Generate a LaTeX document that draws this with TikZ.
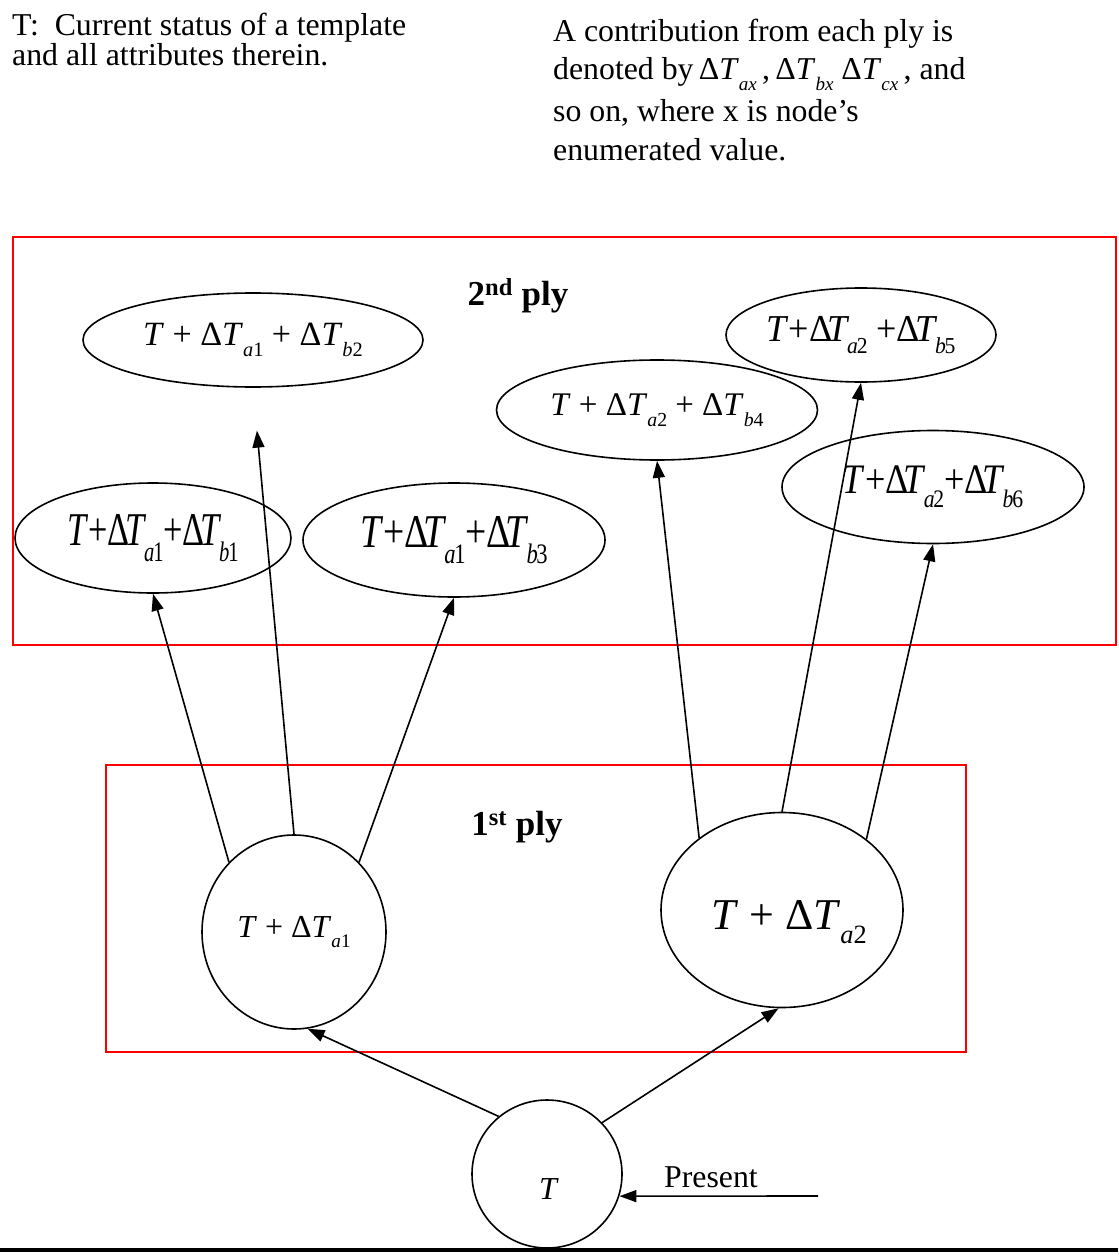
\documentclass[tikz,border=0pt]{standalone}
\usepackage{fontspec}
\setmainfont{Liberation Serif}
\usepackage{tikz}
\usetikzlibrary{arrows.meta,shapes.geometric}

\definecolor{plyInk}{HTML}{000000}
\definecolor{plyFrame}{HTML}{FF0000}

% increment Delta T with an italic/upright subscript, e.g. \PlyDT{a}{1}
\newcommand{\PlyDT}[2]{Δ\textit{T}\raisebox{-.33em}{\scalebox{.6}{\textit{#1}#2}}}
% squeezed form, glyphs run into one another
\newcommand{\PlyDTTight}[2]{Δ\kern-.14em\textit{T}\kern-.06em\raisebox{-.33em}{\scalebox{.6}{\textit{#1}\kern-.06em#2}}}

\tikzset{
  % one pixel of the layout grid is one point
  ply/base/.style={
    font=\rmfamily\fontsize{31.8pt}{36pt}\selectfont,
    text=plyInk,
    line cap=butt,
    line join=miter
  },
  ply/frame/.style={
    draw=plyFrame,
    line width=2pt
  },
  ply/title/.style={
    font=\rmfamily\bfseries\fontsize{35pt}{38pt}\selectfont,
    inner sep=0pt
  },
  ply/note/.style={
    anchor=base west,
    inner sep=0pt
  },
  ply/state/.style={
    ellipse,
    draw=plyInk,
    line width=1.6pt,
    inner sep=0pt
  },
  ply/move/.style={
    -{Triangle[length=17pt,width=12pt]},
    draw=plyInk,
    line width=1.6pt
  }
}

\begin{document}
\begin{tikzpicture}[
  ply/base,x=1pt,y=-1pt,
  state/.style={ply/state},
  move/.style={ply/move},
  eq/.style={font=\rmfamily\fontsize{#1}{#1}\selectfont,inner sep=0pt},
  eq/.default=32pt
]
  \path[use as bounding box] (0,0) rectangle (1118,1257);

  % legend lines
  \node[ply/note] (legendT-1) at (12,36) {T:\ \ Current status of a template};
  \node[ply/note] (legendT-2) at (12,66) {and all attributes therein.};
  \node[ply/note] (legendD-1) at (553,42) {A contribution from each ply is};
  \node[ply/note] (legendD-2) at (553,80)
    {denoted by\,\PlyDT{ax}{}\,,\,\PlyDT{bx}{}\ \PlyDT{cx}{}\,, and};
  \node[ply/note] (legendD-3) at (553,122) {so on, where x is node’s};
  \node[ply/note] (legendD-4) at (553,161) {enumerated value.};

  % ply frames
  \draw[ply/frame] (13,237) rectangle (1116,645);
  \draw[ply/frame] (106,765) rectangle (966,1052);
  \node[ply/title,anchor=base] (plyTwoTitle) at (518,305) {2\textsuperscript{nd} ply};
  \node[ply/title,anchor=base] (plyOneTitle) at (517,835) {1\textsuperscript{st} ply};

  % present state and the first ply; the two larger labels sit low in their circles
  \node[state,minimum width=150,minimum height=148] (root) at (547,1174) {};
  \node[eq] (rootText) at (549,1189) {\textit{T}};
  \node[state,minimum width=184,minimum height=194,eq] (firstA) at (294,932)
    {\textit{T} + \PlyDT{a}{1}};
  \node[state,minimum width=242,minimum height=195] (firstB) at (782,910) {};
  \node[eq=44pt] (firstBText) at (789,922) {\textit{T} + \PlyDT{a}{2}};

  % second ply
  \node[state,minimum width=340,minimum height=94,eq=34pt] (secB2) at (253,340)
    {\textit{T} + \PlyDT{a}{1} + \PlyDT{b}{2}};
  \node[state,minimum width=276,minimum height=110,eq=47pt] (secB1) at (153,538)
    {\scalebox{.73}[1]{\textit{T}+\PlyDTTight{a}{1}+\PlyDTTight{b}{1}}};
  \node[state,minimum width=302,minimum height=114,eq=47pt] (secB3) at (454,540)
    {\scalebox{.80}[1]{\textit{T}+\PlyDTTight{a}{1}+\PlyDTTight{b}{3}}};
  \node[state,minimum width=321,minimum height=100,eq=33pt] (secB4) at (657,410)
    {\textit{T} + \PlyDT{a}{2} + \PlyDT{b}{4}};
  \node[state,minimum width=270,minimum height=94,eq=38pt] (secB5) at (861,335)
    {\scalebox{.95}[1]{\textit{T}+\PlyDTTight{a}{2} +\PlyDTTight{b}{5}}};
  \node[state,minimum width=302,minimum height=113,eq=42pt] (secB6) at (933,487)
    {\scalebox{.86}[1]{\textit{T}+\PlyDTTight{a}{2}+\PlyDTTight{b}{6}}};

  % expansions
  \draw[move] (root.130) -- (firstA.-82);
  \draw[move] (root.43) -- (firstB.-92);
  \draw[move] (firstA.133) -- (secB1.south);
  \draw[move,shorten >=43pt] (firstA.north) -- (secB2.south);
  \draw[move] (firstA.47) -- (secB3.south);
  \draw[move] (firstB.139) -- (secB4.south);
  \draw[move] (firstB.north) -- (secB5.south);
  \draw[move] (firstB.40) -- (secB6.south);

  \coordinate (presentTail) at (818,1196);
  \node[ply/note] (presentLabel) at (664,1187) {Present};
  \draw[move] (presentTail) -- (root.-17);

  \draw[plyInk,line width=4pt] (0,1250) -- (1118,1250);
\end{tikzpicture}
\end{document}
